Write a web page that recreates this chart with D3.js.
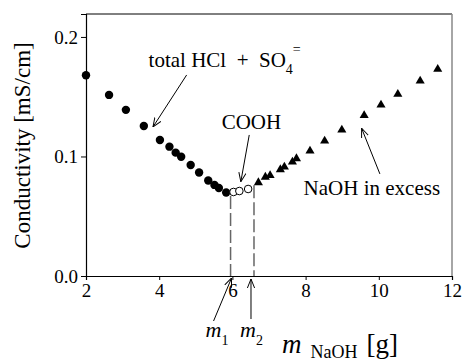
<!DOCTYPE html>
<html>
<head>
<meta charset="utf-8">
<script src="https://cdn.jsdelivr.net/npm/d3@7"></script>
<style>
  body { margin: 0; background: #fff; }
  svg text { font-family: 'Liberation Serif'; fill: #000; white-space: pre; }
</style>
</head>
<body>
<div id="main"></div>
<script>
var width = 462,
    height = 363;

// data
var acidX = [2.00, 2.63, 3.09, 3.58, 4.02, 4.28, 4.45, 4.60, 4.86, 5.09, 5.34, 5.51, 5.63, 5.83];
var acidY = [0.168, 0.1515, 0.139, 0.1255, 0.1138, 0.1082, 0.1032, 0.0998, 0.0929, 0.0866, 0.0799, 0.0762, 0.0736, 0.0699];
var coohX = [6.03, 6.19, 6.43];
var coohY = [0.0703, 0.0711, 0.0728];
var baseX = [6.71, 6.90, 7.03, 7.31, 7.42, 7.64, 7.75, 8.12, 8.52, 8.99, 9.60, 10.06, 10.52, 11.13, 11.61];
var baseY = [0.0782, 0.0828, 0.0841, 0.0891, 0.0912, 0.0954, 0.0983, 0.1046, 0.1130, 0.1222, 0.1343, 0.1431, 0.1521, 0.1632, 0.1730];
var xTicks = [2, 4, 6, 8, 10, 12];
var yTicks = [0.0, 0.1, 0.2];
var m1 = 5.95, m1Top = 0.067;
var m2 = 6.59, m2Top = 0.076;

var serif = "Liberation Serif";
var margin = {left: 86, right: 10, top: 14, bottom: 87};

var x = d3.scaleLinear().domain([2, 12]).range([margin.left, width - margin.right]);
var y = d3.scaleLinear().domain([0, 0.2192]).range([height - margin.bottom, margin.top]);

var svg = d3.select("#main").append("svg")
    .attr("width", width)
    .attr("height", height)
    .attr("font-family", serif);

svg.append("defs").append("marker")
    .attr("id", "head")
    .attr("viewBox", "0 0 10 10")
    .attr("refX", 10).attr("refY", 5)
    .attr("markerWidth", 9).attr("markerHeight", 9)
    .attr("markerUnits", "userSpaceOnUse")
    .attr("orient", "auto")
  .append("path")
    .attr("d", "M0,1 L10,5 L0,9")
    .attr("fill", "none")
    .attr("stroke", "#000")
    .attr("stroke-width", 1.1);

// frame: top black, right grey
svg.append("line")
    .attr("x1", x(2)).attr("x2", x(12))
    .attr("y1", y.range()[1]).attr("y2", y.range()[1])
    .attr("stroke", "#000");
svg.append("line")
    .attr("x1", x(12)).attr("x2", x(12))
    .attr("y1", y.range()[1]).attr("y2", y.range()[0])
    .attr("stroke", "#888").attr("stroke-width", 1.5);

var xAxis = svg.append("g")
    .attr("transform", "translate(0," + y(0) + ")")
    .call(d3.axisBottom(x).tickValues(xTicks).tickSize(4).tickPadding(4).tickFormat(d3.format("d")));
var yAxis = svg.append("g")
    .attr("transform", "translate(" + x(2) + ",0)")
    .call(d3.axisLeft(y).tickValues(yTicks).tickSize(5).tickPadding(3).tickFormat(d3.format(".1f")));

[xAxis, yAxis].forEach(function(a) {
  a.attr("font-family", serif).attr("font-size", 19);
  a.select(".domain").attr("stroke", "#000").attr("stroke-width", 1.2);
  a.selectAll(".tick line").attr("stroke", "#000");
  a.selectAll("text").attr("fill", "#000");
});

// dashed endpoint lines
[[m1, m1Top], [m2, m2Top]].forEach(function(d) {
  svg.append("line")
    .attr("x1", x(d[0])).attr("x2", x(d[0]))
    .attr("y1", y(d[1])).attr("y2", y(0))
    .attr("stroke", "#666").attr("stroke-width", 1.5)
    .attr("stroke-dasharray", "13,4");
});

// points
svg.append("g").selectAll("circle")
    .data(d3.zip(acidX, acidY))
  .enter().append("circle")
    .attr("cx", function(d) { return x(d[0]); })
    .attr("cy", function(d) { return y(d[1]); })
    .attr("r", 4.2)
    .attr("fill", "#000");

svg.append("g").selectAll("circle")
    .data(d3.zip(coohX, coohY))
  .enter().append("circle")
    .attr("cx", function(d) { return x(d[0]); })
    .attr("cy", function(d) { return y(d[1]); })
    .attr("r", 3.8)
    .attr("fill", "#fff")
    .attr("stroke", "#000").attr("stroke-width", 1);

svg.append("g").selectAll("path")
    .data(d3.zip(baseX, baseY))
  .enter().append("path")
    .attr("transform", function(d) { return "translate(" + x(d[0]) + "," + y(d[1]) + ")"; })
    .attr("d", d3.symbol().type(d3.symbolTriangle).size(36))
    .attr("fill", "#000");

// annotations
function arrow(x1, y1, x2, y2) {
  svg.append("line")
    .attr("x1", x1).attr("y1", y1).attr("x2", x2).attr("y2", y2)
    .attr("stroke", "#000").attr("stroke-width", 1)
    .attr("marker-end", "url(#head)");
}

var t1 = svg.append("text")
    .attr("x", x(3.71)).attr("y", y(0.1749))
    .attr("font-size", 21);
t1.append("tspan").text("total HCl  +  SO");
t1.append("tspan").attr("dy", 7).attr("font-size", 14).text("4");
t1.append("tspan").attr("dy", -20).attr("font-size", 14).text("=");
arrow(x(4.75), y(0.1682), x(3.83), y(0.1247));

svg.append("text")
    .attr("x", x(6.52)).attr("y", y(0.1228))
    .attr("text-anchor", "middle")
    .attr("font-size", 21)
    .text("COOH");
arrow(x(6.46), y(0.118), x(6.23), y(0.0789));

svg.append("text")
    .attr("x", x(9.81)).attr("y", y(0.0678))
    .attr("text-anchor", "middle")
    .attr("font-size", 21)
    .text("NaOH in excess");
arrow(x(10.03), y(0.0854), x(9.53), y(0.1236));

// m1, m2 labels below the axis
function mLabel(xv, dx, sub) {
  var t = svg.append("text")
    .attr("x", x(xv) + dx).attr("y", y(0) + 61)
    .attr("font-size", 22);
  t.append("tspan").attr("font-style", "italic").text("m");
  t.append("tspan").attr("dy", 8).attr("font-size", 14).text(sub);
}
mLabel(m1, -25, "1");
arrow(x(m1) - 17, y(0) + 45, x(m1) + 1, y(0) + 2);
mLabel(m2, -14, "2");
arrow(x(m2) - 3, y(0) + 43, x(m2) - 3, y(0) + 3);

// axis titles
var xt = svg.append("text")
    .attr("x", 282).attr("y", height - 10);
xt.append("tspan").attr("font-size", 27).attr("font-style", "italic").text("m");
xt.append("tspan").attr("dx", 9).attr("dy", 5).attr("font-size", 18).text("NaOH");
xt.append("tspan").attr("dx", 9).attr("dy", -5).attr("font-size", 27).text("[g]");

svg.append("text")
    .attr("transform", "translate(30," + (y(0.1) - 11) + ") rotate(-90)")
    .attr("text-anchor", "middle")
    .attr("font-size", 23)
    .text("Conductivity [mS/cm]");
</script>
</body>
</html>
